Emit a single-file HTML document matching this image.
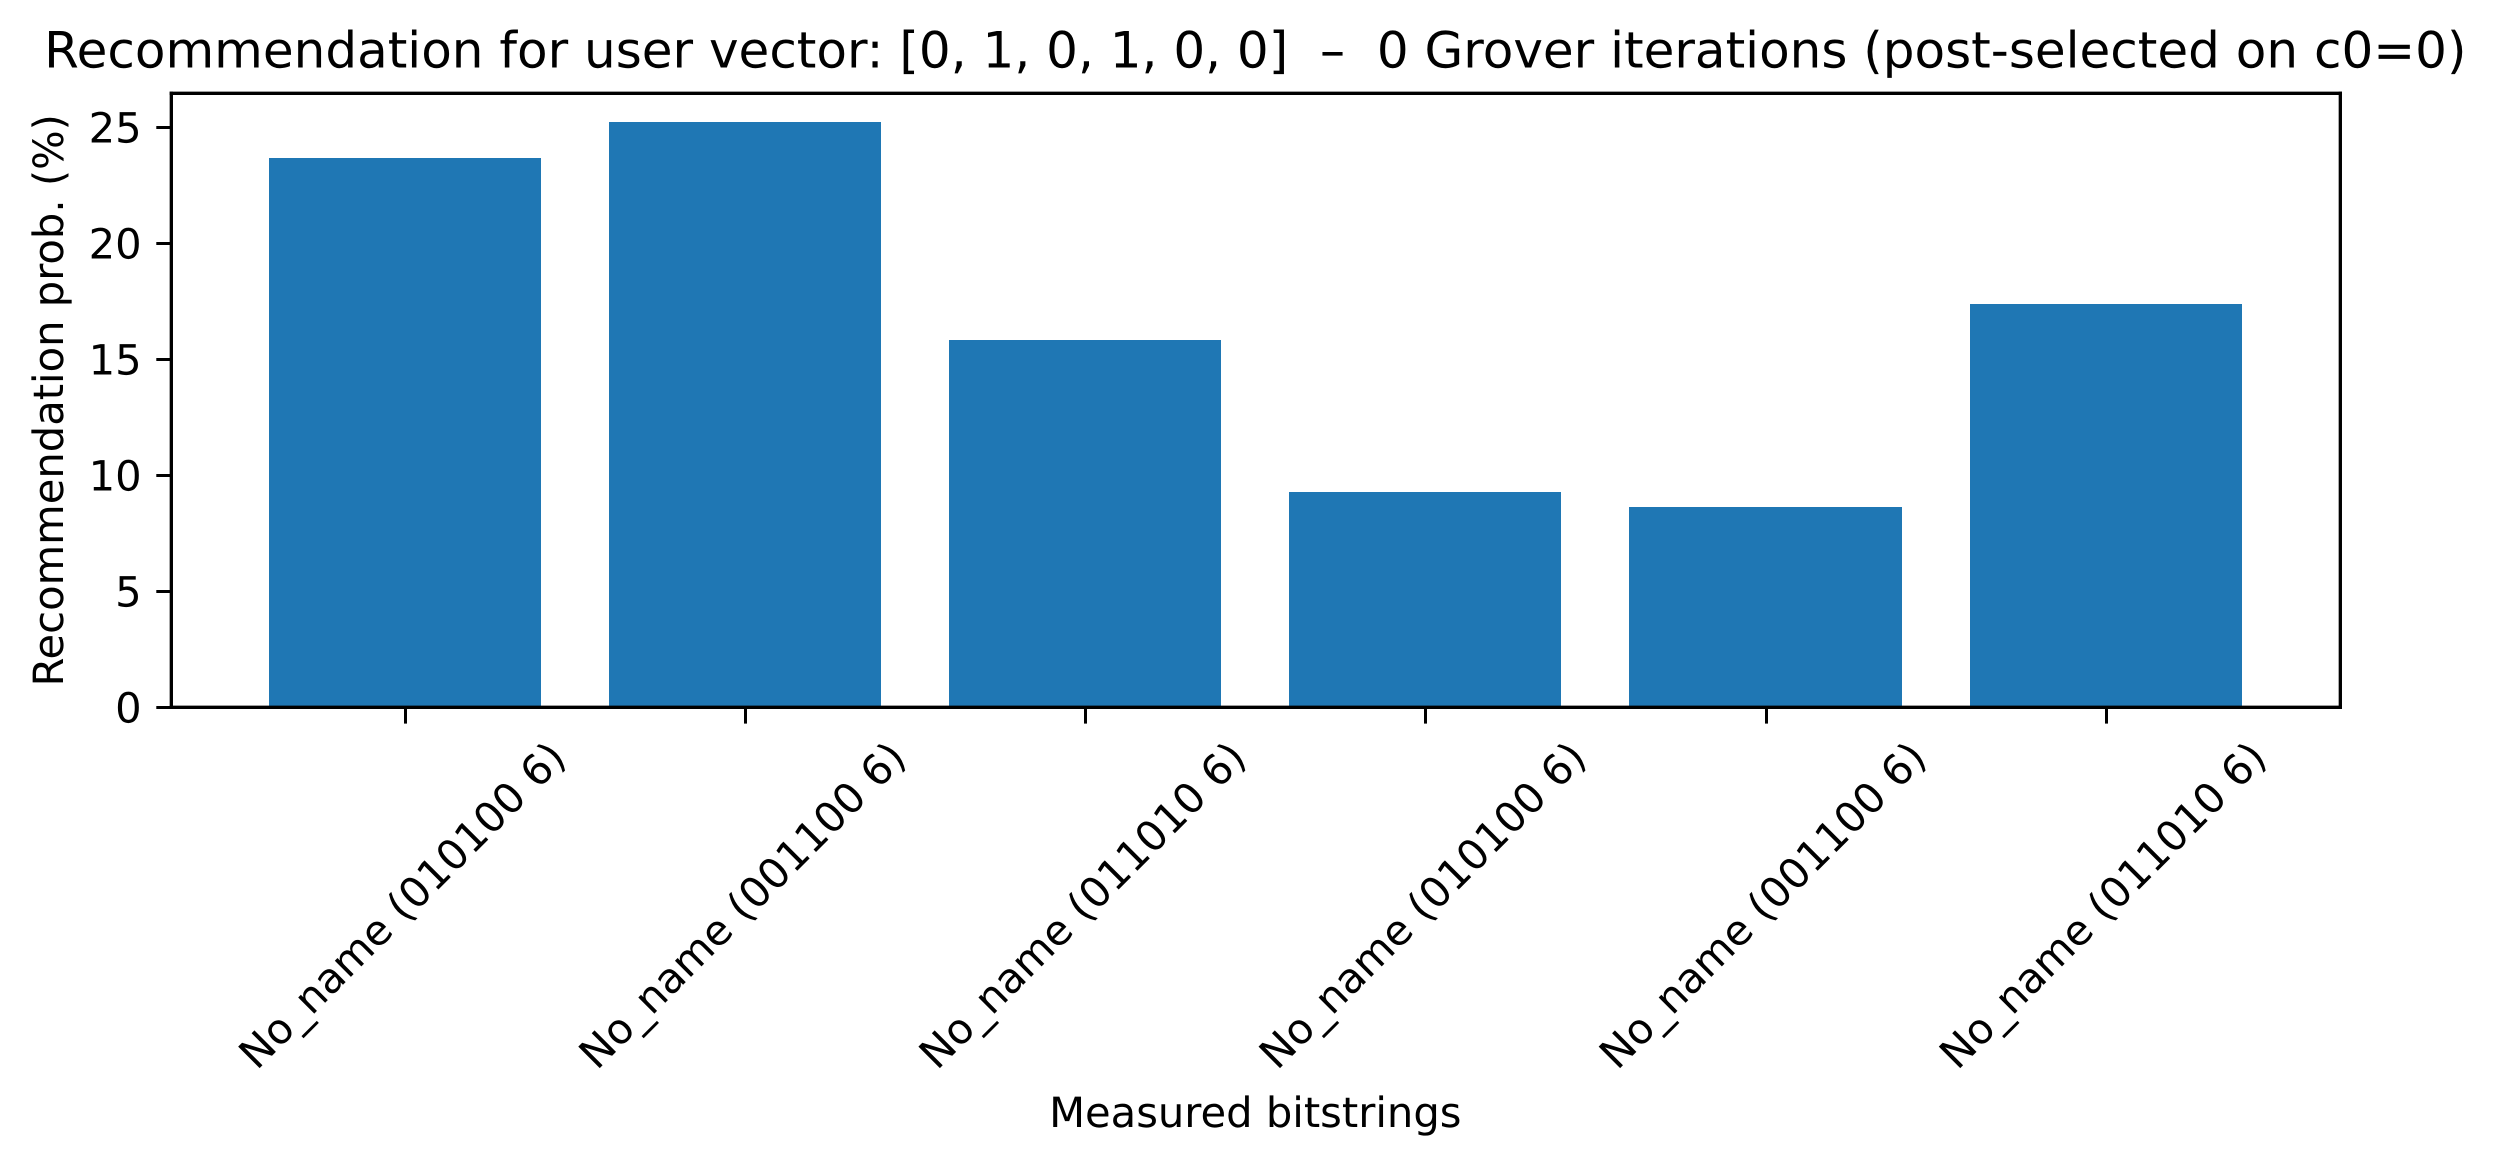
<!DOCTYPE html>
<html>
<head>
<meta charset="utf-8">
<title>Recommendation chart</title>
<style>
html,body{margin:0;padding:0;background:#fff;width:2497px;height:1166px;overflow:hidden}
svg{display:block}
text{font-family:"DejaVu Sans","Liberation Sans",sans-serif;fill:#000;text-rendering:geometricPrecision}
</style>
</head>
<body>
<svg id="chart" xmlns="http://www.w3.org/2000/svg" width="2497" height="1166" viewBox="0 0 2497 1166">
  <rect x="0" y="0" width="2497" height="1166" fill="#fff"/>
  <g id="bars"></g>
  <g id="ticks"></g>
  <line x1="171.33" y1="91.67" x2="171.33" y2="709" stroke="#000" stroke-width="3.33"/>
  <line x1="2340.33" y1="91.67" x2="2340.33" y2="709" stroke="#000" stroke-width="3.33"/>
  <line x1="169.67" y1="93.33" x2="2342" y2="93.33" stroke="#000" stroke-width="3.33"/>
  <line x1="169.67" y1="707.33" x2="2342" y2="707.33" stroke="#000" stroke-width="3.33"/>
  <text x="1255.3" y="67.7" text-anchor="middle" font-size="50" xml:space="preserve">Recommendation for user vector: [0, 1, 0, 1, 0, 0]  –  0 Grover iterations (post-selected on c0=0)</text>
  <text x="1255.3" y="1127" text-anchor="middle" font-size="41.67">Measured bitstrings</text>
  <text transform="translate(63 400.3) rotate(-90)" text-anchor="middle" font-size="41.67">Recommendation prob. (%)</text>
</svg>
<script>
var categories = ["No_name (010100 6)", "No_name (001100 6)", "No_name (011010 6)", "No_name (010100 6)", "No_name (001100 6)", "No_name (011010 6)"];
var probabilities = [23.68, 25.23, 15.83, 9.28, 8.63, 17.38];
var yTickLabels = [0, 5, 10, 15, 20, 25];
var barWidth = 0.8;

var NS = "http://www.w3.org/2000/svg";
var plot = { left: 170.83, right: 2340.83, top: 93.33, bottom: 707.33 };

function yMax() {
  return Math.max.apply(null, probabilities.concat([25.2])) * 1.0489;
}
function xScale(v) {
  var lo = -barWidth / 2 - 0.05 * (categories.length - 1 + barWidth);
  var hi = categories.length - 1 + barWidth / 2 + 0.05 * (categories.length - 1 + barWidth);
  return plot.left + (v - lo) / (hi - lo) * (plot.right - plot.left);
}
function yScale(v) {
  return plot.bottom - v / yMax() * (plot.bottom - plot.top);
}
function make(tag, attrs, parent) {
  var el = document.createElementNS(NS, tag);
  for (var k in attrs) { el.setAttribute(k, attrs[k]); }
  parent.appendChild(el);
  return el;
}

var barsGroup = document.getElementById("bars");
var ticksGroup = document.getElementById("ticks");

probabilities.forEach(function (value, i) {
  var x0 = Math.floor(xScale(i - barWidth / 2));
  var x1 = Math.floor(xScale(i + barWidth / 2));
  var yTop = Math.round(yScale(value));
  var bar = make("rect", { x: x0, y: yTop, width: x1 - x0, height: plot.bottom - yTop, fill: "#1f77b4" }, barsGroup);
  
  
});

categories.forEach(function (label, i) {
  var cx = xScale(i);
  var tx = Math.floor(cx) + 0.5;
  var tick = make("line", { x1: tx, x2: tx, y1: plot.bottom, y2: 723.6, stroke: "#000", "stroke-width": 3 }, ticksGroup);
  
  
  var text = make("text", { transform: "translate(" + (cx - 3) + " 905.5) rotate(-45)", y: 14, "text-anchor": "middle", "font-size": 41.67 }, ticksGroup);
  text.textContent = label;
  
  
});

yTickLabels.forEach(function (value) {
  var y = yScale(value);
  var ty = Math.floor(y) + 0.5;
  var tick = make("line", { x1: 156.3, x2: 171.33, y1: ty, y2: ty, stroke: "#000", "stroke-width": 3 }, ticksGroup);
  
  
  var text = make("text", { x: 141.7, y: y + 15.2, "text-anchor": "end", "font-size": 41.67 }, ticksGroup);
  text.textContent = String(value);
  
  
});
</script>
</body>
</html>
